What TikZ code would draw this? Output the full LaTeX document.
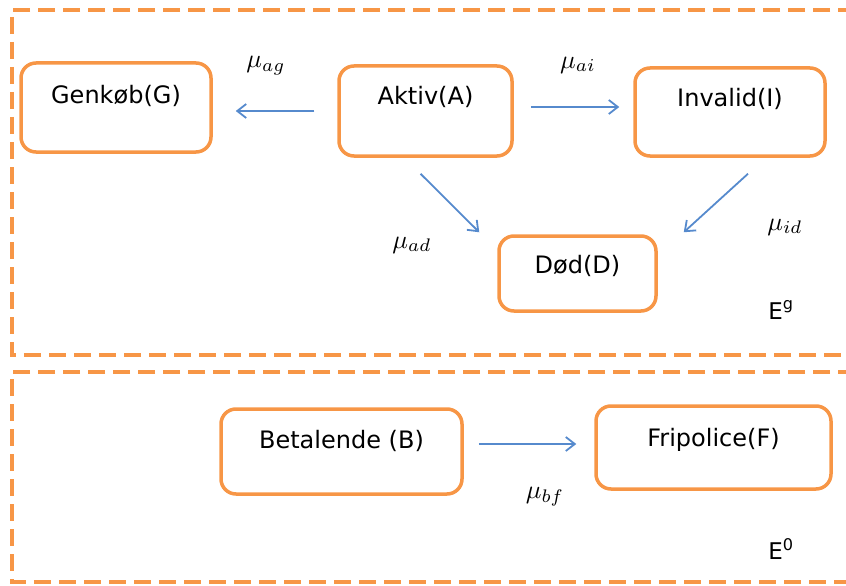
\documentclass[tikz,border=0pt]{standalone}
\usepackage{fontspec}
\setmainfont{DejaVu Sans}
\usepackage{xcolor}
\usetikzlibrary{positioning,arrows.meta}

\definecolor{boxorange}{RGB}{247,150,70}
\definecolor{arrowblue}{RGB}{86,138,205}

\begin{document}
\begin{tikzpicture}[x=1pt,y=-1pt,
    state/.style={rectangle, rounded corners=15pt, draw=boxorange, line width=3.5pt,
      font=\fontsize{24}{28}\selectfont, text height=17pt, text depth=#1},
    region/.style={draw=boxorange, line width=3.5pt, dash pattern=on 17pt off 8pt},
    trans/.style={-{Straight Barb[length=9pt,width=14pt]}, draw=arrowblue, line width=1.8pt},
    rate/.style={scale=2.6},
    space/.style={font=\fontsize{23}{26}\selectfont}]
      \clip (0,0) rectangle (846,586);
      \draw[region] (880,10) -- (12,10) -- (12,355) -- (880,355);
      \draw[region] (880,372) -- (12,372) -- (12,582) -- (880,582);
      % states, top region
      \node (G) [state=25pt, minimum width=190pt, minimum height=89pt] at (116,107.5) {Genkøb(G)};
      \node (A) [state=30pt, minimum width=173pt, minimum height=90pt] at (425.5,111) {Aktiv(A)};
      \node (I) [state=28pt, minimum width=190pt, minimum height=88pt] at (730,112) {Invalid(I)};
      \node (D) [state=17pt, minimum width=157pt, minimum height=75pt] at (577.5,273.5) {Død(D)};
      % states, bottom region
      \node (B) [state=23pt, minimum width=241pt, minimum height=85pt] at (341.5,451.5) {Betalende (B)};
      \node (F) [state=19pt, minimum width=235pt, minimum height=83pt] at (713.5,447.5) {Fripolice(F)};
      % transitions
      \draw[trans] ([xshift=-23pt]A.west) -- ([xshift=23pt]A.west -| G.east);
      \draw[trans] ([xshift=17pt,yshift=4pt]A.east) -- ([xshift=-14pt,yshift=4pt]A.east -| I.west);
      \draw[trans] ([xshift=-5pt,yshift=-16pt]A.south) -- ([xshift=-18pt,yshift=2pt]D.north west);
      \draw[trans] ([xshift=18pt,yshift=-16pt]I.south) -- ([xshift=26pt,yshift=2pt]D.north east);
      \draw[trans] ([xshift=15pt,yshift=7.5pt]B.east) -- ([xshift=-18pt,yshift=7.5pt]B.east -| F.west);
      % rates
      \node (mag) [rate] at (266,66) {$\mu_{ag}$};
      \node (mai) [rate] at (578,65) {$\mu_{ai}$};
      \node (mad) [rate] at (412,245) {$\mu_{ad}$};
      \node (mid) [rate] at (785,227) {$\mu_{id}$};
      \node (mbf) [rate] at (545,497) {$\mu_{bf}$};
      % state spaces
      \node (Eg) [space] at (781,310) {E\textsuperscript{g}};
      \node (E0) [space] at (781,549) {E\textsuperscript{0}};
\end{tikzpicture}
\end{document}
